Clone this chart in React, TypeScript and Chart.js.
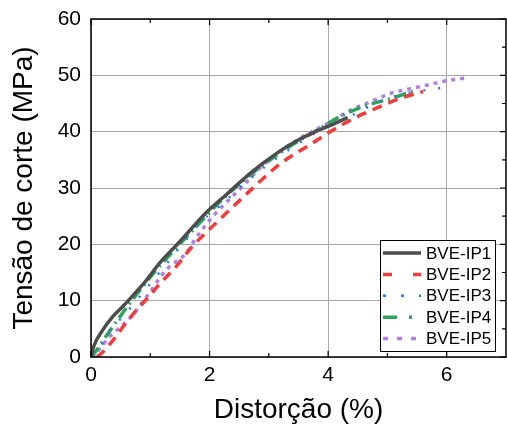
import React, { useEffect, useRef } from "react";
import { Chart, registerables } from "chart.js";

Chart.register(...registerables);

const seriesLabels = ["BVE-IP1", "BVE-IP2", "BVE-IP3", "BVE-IP4", "BVE-IP5"];

const ip1X = [0, 0.05, 0.18, 0.37, 0.54, 0.74, 0.94, 1.16, 1.5, 1.94, 2.28, 2.73, 3.18, 3.51, 3.85, 4.1, 4.33];
const ip1Y = [0, 2.0, 4.5, 7.2, 9.0, 11.3, 13.7, 16.7, 20.5, 25.6, 28.8, 33.0, 36.5, 38.6, 40.3, 41.4, 42.5];

const ip2X = [0.1, 0.2, 0.35, 0.55, 0.8, 1.0, 1.16, 1.44, 1.69, 2.17, 2.67, 3.18, 3.74, 4.02, 4.3, 4.58, 4.91, 5.19, 5.53, 5.6];
const ip2Y = [0, 0.9, 2.7, 5.5, 8.7, 11.0, 13.0, 16.1, 19.4, 24.4, 29.4, 34.2, 38.0, 39.9, 41.6, 43.1, 44.6, 45.8, 46.9, 47.1];

const ip3X = [0.05, 0.15, 0.32, 0.54, 0.96, 1.33, 1.6, 1.83, 2.17, 2.73, 3.34, 3.74, 4.02, 4.3, 4.91, 5.36, 5.87, 6.1];
const ip3Y = [0, 1.5, 4.8, 7.2, 12.5, 17.3, 20.8, 23.8, 26.8, 32.1, 36.8, 39.5, 41.3, 42.4, 45.5, 46.9, 47.7, 48.1];

const ip4X = [0, 0.08, 0.21, 0.49, 0.74, 1.08, 1.38, 1.78, 2.17, 2.73, 3.4, 3.79, 4.24, 4.63, 5.03, 5.42, 5.5];
const ip4Y = [0, 1.0, 3.0, 7.2, 10.7, 15.2, 18.7, 23.2, 27.5, 32.7, 37.7, 40.1, 42.9, 44.6, 45.8, 47.1, 47.3];

const ip5X = [0, 0.15, 0.3, 0.54, 0.68, 0.96, 1.27, 1.61, 1.75, 2.06, 2.5, 2.95, 3.4, 3.85, 4.07, 4.41, 4.69, 4.89, 5.05, 5.42, 5.64, 5.98, 6.31];
const ip5Y = [0, 1.5, 3.5, 5.7, 7.2, 11.0, 15.5, 18.5, 20.8, 25.0, 29.7, 34.5, 38.0, 40.7, 41.9, 44.0, 45.2, 46.1, 46.8, 47.7, 48.2, 49.0, 49.5];

const xTicks = [0, 2, 4, 6];
const yTicks = [0, 10, 20, 30, 40, 50, 60];
const xMinorTicks = [1, 3, 5];
const yMinorTicks = [5, 15, 25, 35, 45, 55];

const xTitle = "Distorção (%)";
const yTitle = "Tensão de corte (MPa)";

const FONT = "'Liberation Sans', Arial, sans-serif";

const styles = [
  { color: "#4d4d4d", dash: [] as number[], width: 3.5, legendDash: [] as number[] },
  { color: "#f03c3c", dash: [10, 7], width: 3.5, legendDash: [9, 21] },
  { color: "#2a78e0", dash: [2, 13], width: 2.5, legendDash: [3, 15] },
  { color: "#2ea35e", dash: [12, 5, 2, 5], width: 3.5, legendDash: [14, 12, 3, 12] },
  { color: "#b07fe3", dash: [4, 5], width: 3.5, legendDash: [5, 9] },
];

const toPts = (xs: number[], ys: number[]) => xs.map((x, i) => ({ x, y: ys[i] }));

const framePlugin = {
  id: "frameAndLegend",
  afterDatasetsDraw(chart: any) {
    const { ctx, chartArea, scales } = chart;
    const { left, right, top, bottom } = chartArea;
    const xs = scales.x;
    const ys = scales.y;
    ctx.save();
    ctx.strokeStyle = "#000";
    ctx.lineWidth = 1.5;
    ctx.setLineDash([]);
    ctx.strokeRect(left, top, right - left, bottom - top);
    ctx.lineWidth = 1.2;
    ctx.beginPath();
    for (const v of xTicks) {
      const px = xs.getPixelForValue(v);
      ctx.moveTo(px, bottom); ctx.lineTo(px, bottom - 6);
      ctx.moveTo(px, top); ctx.lineTo(px, top + 6);
    }
    for (const v of xMinorTicks) {
      const px = xs.getPixelForValue(v);
      ctx.moveTo(px, bottom); ctx.lineTo(px, bottom - 4);
      ctx.moveTo(px, top); ctx.lineTo(px, top + 4);
    }
    for (const v of yTicks) {
      const py = ys.getPixelForValue(v);
      ctx.moveTo(right, py); ctx.lineTo(right - 6, py);
    }
    for (const v of yMinorTicks) {
      const py = ys.getPixelForValue(v);
      ctx.moveTo(right, py); ctx.lineTo(right - 4, py);
    }
    ctx.stroke();

    const bw = 115;
    const bh = 111;
    const bx = right - 11 - bw;
    const by = bottom - 6 - bh;
    ctx.fillStyle = "#fff";
    ctx.fillRect(bx, by, bw, bh);
    ctx.strokeStyle = "#000";
    ctx.lineWidth = 1;
    ctx.strokeRect(bx + 0.5, by + 0.5, bw, bh);
    ctx.font = `17px ${FONT}`;
    ctx.textBaseline = "middle";
    ctx.textAlign = "left";
    chart.data.datasets.forEach((ds: any, i: number) => {
      const st = styles[i];
      const cy = by + 13 + i * 21.4;
      ctx.strokeStyle = ds.borderColor;
      ctx.lineWidth = st.width;
      ctx.setLineDash(st.legendDash);
      ctx.beginPath();
      ctx.moveTo(bx + 3, cy);
      ctx.lineTo(bx + 41, cy);
      ctx.stroke();
      ctx.setLineDash([]);
      ctx.fillStyle = "#000";
      ctx.fillText(ds.label, bx + 46, cy + 1);
    });
    ctx.restore();
  },
};

export default function App() {
  const ref = useRef<HTMLCanvasElement | null>(null);
  useEffect(() => {
    if (!ref.current) return;
    const allX = [ip1X, ip2X, ip3X, ip4X, ip5X];
    const allY = [ip1Y, ip2Y, ip3Y, ip4Y, ip5Y];
    const chart = new Chart(ref.current, {
      type: "line",
      data: {
        datasets: seriesLabels.map((label, i) => ({
          label,
          data: toPts(allX[i], allY[i]),
          borderColor: styles[i].color,
          backgroundColor: styles[i].color,
          borderDash: styles[i].dash,
          borderWidth: styles[i].width,
          pointRadius: 0,
          fill: false,
          cubicInterpolationMode: "monotone",
        })),
      },
      options: {
        animation: false,
        responsive: false,
        maintainAspectRatio: false,
        layout: { padding: { top: 19, right: 1, left: 0, bottom: 0 } },
        plugins: {
          legend: { display: false },
          tooltip: { enabled: false },
        },
        scales: {
          x: {
            type: "linear",
            min: 0,
            max: 7,
            afterBuildTicks: (s: any) => {
              s.ticks = xTicks.map((v) => ({ value: v }));
            },
            afterFit: (s: any) => {
              s.height = 71;
              s.paddingRight = 0;
              s.paddingLeft = 0;
            },
            grid: { color: "#a8a8a8", lineWidth: 1, drawTicks: false },
            border: { display: false },
            ticks: {
              padding: 6,
              color: "#000",
              font: { size: 21, family: FONT },
              maxRotation: 0,
            },
            title: {
              display: true,
              text: xTitle,
              color: "#000",
              font: { size: 28, family: FONT },
              padding: { top: 0, bottom: 1 },
            },
          },
          y: {
            type: "linear",
            min: 0,
            max: 60,
            afterBuildTicks: (s: any) => {
              s.ticks = yTicks.map((v) => ({ value: v }));
            },
            afterFit: (s: any) => {
              s.width = 91;
              s.paddingTop = 0;
              s.paddingBottom = 0;
            },
            grid: { color: "#a8a8a8", lineWidth: 1, drawTicks: false },
            border: { display: false },
            ticks: {
              padding: 10,
              color: "#000",
              font: { size: 21, family: FONT },
            },
            title: {
              display: true,
              text: yTitle,
              color: "#000",
              font: { size: 28, family: FONT },
              padding: { top: 7, bottom: 0 },
            },
          },
        },
      },
      plugins: [framePlugin],
    } as any);
    return () => chart.destroy();
  }, []);
  return (
    <canvas
      ref={ref}
      width={507}
      height={428}
      style={{ position: "fixed", left: 0, top: 0, display: "block", background: "#fff" }}
    />
  );
}
